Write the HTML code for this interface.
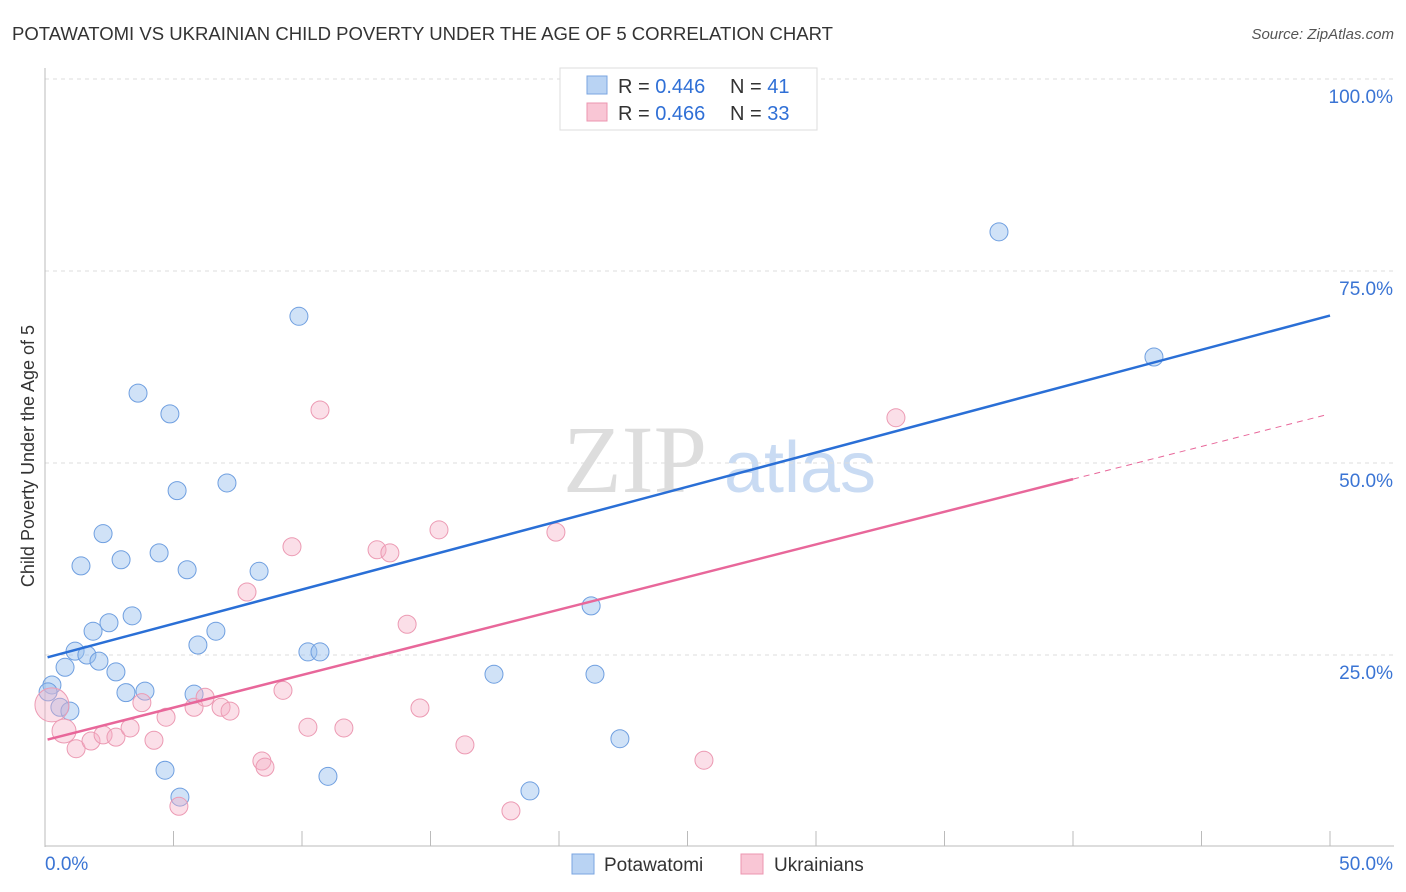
<!DOCTYPE html>
<html><head><meta charset="utf-8"><style>
body{margin:0;background:#fff;font-family:"Liberation Sans",sans-serif;}
svg{display:block}
</style></head><body>
<svg id="chart" width="1406" height="892">
<text x="12" y="40" font-size="18" fill="#333" textLength="821" lengthAdjust="spacingAndGlyphs">POTAWATOMI VS UKRAINIAN CHILD POVERTY UNDER THE AGE OF 5 CORRELATION CHART</text>
<text x="1394" y="39" font-size="15" fill="#555" text-anchor="end" font-style="italic">Source: ZipAtlas.com</text>
<text transform="translate(34,456) rotate(-90)" font-size="18" fill="#333" text-anchor="middle">Child Poverty Under the Age of 5</text>
<g><text x="635" y="492" font-size="96" fill="#ddd" text-anchor="middle" font-family="Liberation Serif,serif">ZIP</text><text x="800" y="492" font-size="72" fill="#c9dbf3" text-anchor="middle">atlas</text></g>
<g id="grid"></g><g id="marks"></g>
<g>
<rect x="560" y="68" width="257" height="62" fill="#fff" stroke="#ddd"/>
<rect x="587" y="76" width="20" height="18" fill="#b9d3f3" stroke="#7aa5e0"/>
<rect x="587" y="103" width="20" height="18" fill="#f9c6d5" stroke="#ec96b0"/>
<text x="618" y="93" font-size="20" fill="#333">R = <tspan fill="#2f6fd6">0.446</tspan><tspan x="730">N = </tspan><tspan fill="#2f6fd6">41</tspan></text>
<text x="618" y="120" font-size="20" fill="#333">R = <tspan fill="#2f6fd6">0.466</tspan><tspan x="730">N = </tspan><tspan fill="#2f6fd6">33</tspan></text>
</g>
<g>
<rect x="572" y="854" width="22" height="20" fill="#b9d3f3" stroke="#7aa5e0"/>
<text x="604" y="871" font-size="19" fill="#333">Potawatomi</text>
<rect x="741" y="854" width="22" height="20" fill="#f9c6d5" stroke="#ec96b0"/>
<text x="774" y="871" font-size="19" fill="#333">Ukrainians</text>
</g>
</svg>
<script>
const xTickLabels=["0.0%","50.0%"];
const yTickValues=[25,50,75,100];
const yTickLabels=["25.0%","50.0%","75.0%","100.0%"];
const potX=[0.27,0.12,0.58,0.97,0.78,1.17,1.63,1.87,2.10,2.49,2.76,3.15,3.39,3.89,2.26,1.40,2.96,3.62,4.44,4.86,5.14,5.53,5.95,5.80,6.65,7.08,4.67,5.25,8.33,9.88,10.23,10.70,11.01,17.47,18.87,21.25,21.40,22.37,37.12,43.15,25.37];
const potY=[21.1,20.2,18.2,17.7,23.4,25.5,25.0,28.1,24.2,29.2,22.8,20.1,30.1,20.3,40.8,36.6,37.4,59.1,38.3,56.4,46.4,36.1,26.3,19.9,28.1,47.4,10.0,6.5,35.9,69.1,25.4,25.4,9.2,22.5,7.3,31.4,22.5,14.1,80.1,63.8,99.9];
const ukrX=[0.27,0.74,1.21,1.79,2.26,2.76,3.31,3.77,4.24,4.71,5.21,5.80,6.23,6.85,7.20,7.86,8.44,8.56,9.26,9.61,10.23,10.70,11.63,12.92,13.42,14.09,14.59,15.33,16.34,18.13,19.88,25.64,33.11];
const ukrY=[18.5,15.1,12.8,13.8,14.6,14.3,15.5,18.8,13.9,16.9,5.3,18.2,19.5,18.2,17.7,33.2,11.2,10.4,20.4,39.1,15.6,56.9,15.5,38.7,38.3,29.0,18.1,41.3,13.3,4.7,41.0,11.3,55.9];
const ukrR=[17,12,9,9,9,9,9,9,9,9,9,9,9,9,9,9,9,9,9,9,9,9,9,9,9,9,9,9,9,9,9,9,9];
const potTrend=[24.7,69.2];
const ukrTrend=[13.9,56.4];
const ukrSolidEnd=40;
const NS="http://www.w3.org/2000/svg";
const X0=45,X1=1330,Y0=847,YTOP=79;
const sx=v=>X0+(X1-X0)*v/50;
const sy=v=>Y0-(Y0-YTOP)*v/100;
const grid=document.getElementById('grid'),marks=document.getElementById('marks');
function mk(tag,attrs,parent){const e=document.createElementNS(NS,tag);for(const k in attrs)e.setAttribute(k,attrs[k]);parent.appendChild(e);return e;}
yTickValues.forEach((v,i)=>{
 const l=mk('line',{x1:X0,x2:1394,y1:sy(v),y2:sy(v),stroke:'#ddd','stroke-dasharray':'4,4'},grid);
 
 
 const t=mk('text',{x:1393,y:sy(v)+24,'font-size':19,fill:'#3a74d4','text-anchor':'end'},grid);
 t.textContent=yTickLabels[i];
 
 
});
const ax=mk('line',{x1:X0,x2:X0,y1:68,y2:847,stroke:'#bbb'},grid);


const bx=mk('line',{x1:X0,x2:1394,y1:846,y2:846,stroke:'#bbb'},grid);


for(let i=0;i<=10;i++){const t=mk('line',{x1:sx(i*5),x2:sx(i*5),y1:831,y2:846,stroke:'#bbb'},grid);
 
 }
[[0,'start',45],[50,'end',1393]].forEach((d,i)=>{const t=mk('text',{x:d[2],y:870,'font-size':19,fill:'#3a74d4','text-anchor':d[1]},grid);t.textContent=xTickLabels[i];
 
 });
potX.forEach((x,i)=>{const c=mk('circle',{cx:sx(x),cy:sy(potY[i]),r:9,fill:'rgba(150,190,238,0.45)',stroke:'#6f9fe0','stroke-width':1},marks);
 
 });
ukrX.forEach((x,i)=>{const c=mk('circle',{cx:sx(x),cy:sy(ukrY[i]),r:ukrR[i],fill:'rgba(246,175,198,0.4)',stroke:'#ec9ab3','stroke-width':1},marks);
 
 });
const pl=mk('line',{x1:sx(0.1),y1:sy(potTrend[0]),x2:sx(50),y2:sy(potTrend[1]),stroke:'#2a6fd6','stroke-width':2.5},marks);


const uAt=x=>ukrTrend[0]+(ukrTrend[1]-ukrTrend[0])*x/50;
const ul=mk('line',{x1:sx(0.1),y1:sy(uAt(0.1)),x2:sx(ukrSolidEnd),y2:sy(uAt(ukrSolidEnd)),stroke:'#e8679a','stroke-width':2.5},marks);


const ud=mk('line',{x1:sx(ukrSolidEnd),y1:sy(uAt(ukrSolidEnd)),x2:sx(49.8),y2:sy(uAt(49.8)),stroke:'#e8679a','stroke-width':1,'stroke-dasharray':'6,5'},marks);


</script>
</body></html>
